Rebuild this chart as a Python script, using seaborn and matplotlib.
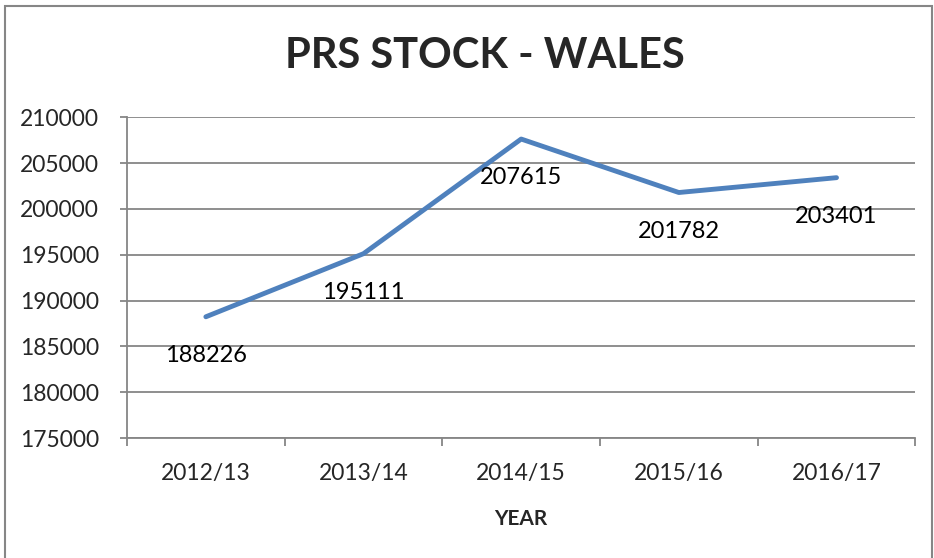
import pandas as pd
import seaborn as sns
import matplotlib.pyplot as plt
from matplotlib.patches import Rectangle
from matplotlib.ticker import FixedLocator


years = ['2012/13', '2013/14', '2014/15', '2015/16', '2016/17']
stock = [188226, 195111, 207615, 201782, 203401]
y_ticks = [175000, 180000, 185000, 190000, 195000, 200000, 205000, 210000]

GRID = '#868686'
LINE = '#4F81BD'


def draw_chart():
    sns.set_style('white')
    plt.rcParams['font.family'] = ['Lato', 'DejaVu Sans']

    df = pd.DataFrame({'year': years, 'stock': stock})

    fig = plt.figure(figsize=(9.34, 5.58), dpi=100)
    ax = fig.add_axes([0.136, 0.215, 0.844, 0.575])

    sns.lineplot(data=df, x='year', y='stock', color=LINE, linewidth=3.5,
                 sort=False, ax=ax)

    # data labels sit just under each point
    for i, val in enumerate(stock):
        ax.annotate(str(val), (i, val), xytext=(0, -28), textcoords='offset points',
                    ha='center', va='center', fontsize=17, color='black')

    ax.set_ylim(y_ticks[0], y_ticks[-1])
    ax.set_yticks(y_ticks)
    ax.set_yticklabels([str(t) for t in y_ticks], fontsize=16.5)
    ax.set_xlim(-0.5, len(years) - 0.5)
    ax.set_xticks(range(len(years)))
    ax.set_xticklabels(years, fontsize=16.5)
    ax.xaxis.set_minor_locator(FixedLocator([i - 0.5 for i in range(len(years) + 1)]))

    ax.grid(axis='y', color=GRID, linewidth=1.3)
    ax.set_axisbelow(True)
    for side in ['top', 'right']:
        ax.spines[side].set_visible(False)
    for side in ['left', 'bottom']:
        ax.spines[side].set_color(GRID)
        ax.spines[side].set_linewidth(1.3)

    ax.tick_params(axis='y', which='major', left=True, length=5, width=1.3, color=GRID,
                   pad=15)
    ax.tick_params(axis='x', which='major', bottom=False, length=0, pad=18)
    ax.tick_params(axis='x', which='minor', bottom=True, length=6, width=1.3, color=GRID)

    ax.set_xlabel('YEAR', fontsize=15, fontweight='bold', labelpad=18)
    ax.set_ylabel('')

    fig.text(0.519, 0.9, 'PRS STOCK - WALES', ha='center', va='center',
             fontsize=30, fontweight='bold')

    # outer chart frame
    fig.add_artist(Rectangle((0.005, -0.01), 0.993, 1.0, transform=fig.transFigure,
                             fill=False, edgecolor=GRID, linewidth=1.5))

    fig.savefig('out.png', dpi=100)


if __name__ == '__main__':
    draw_chart()
